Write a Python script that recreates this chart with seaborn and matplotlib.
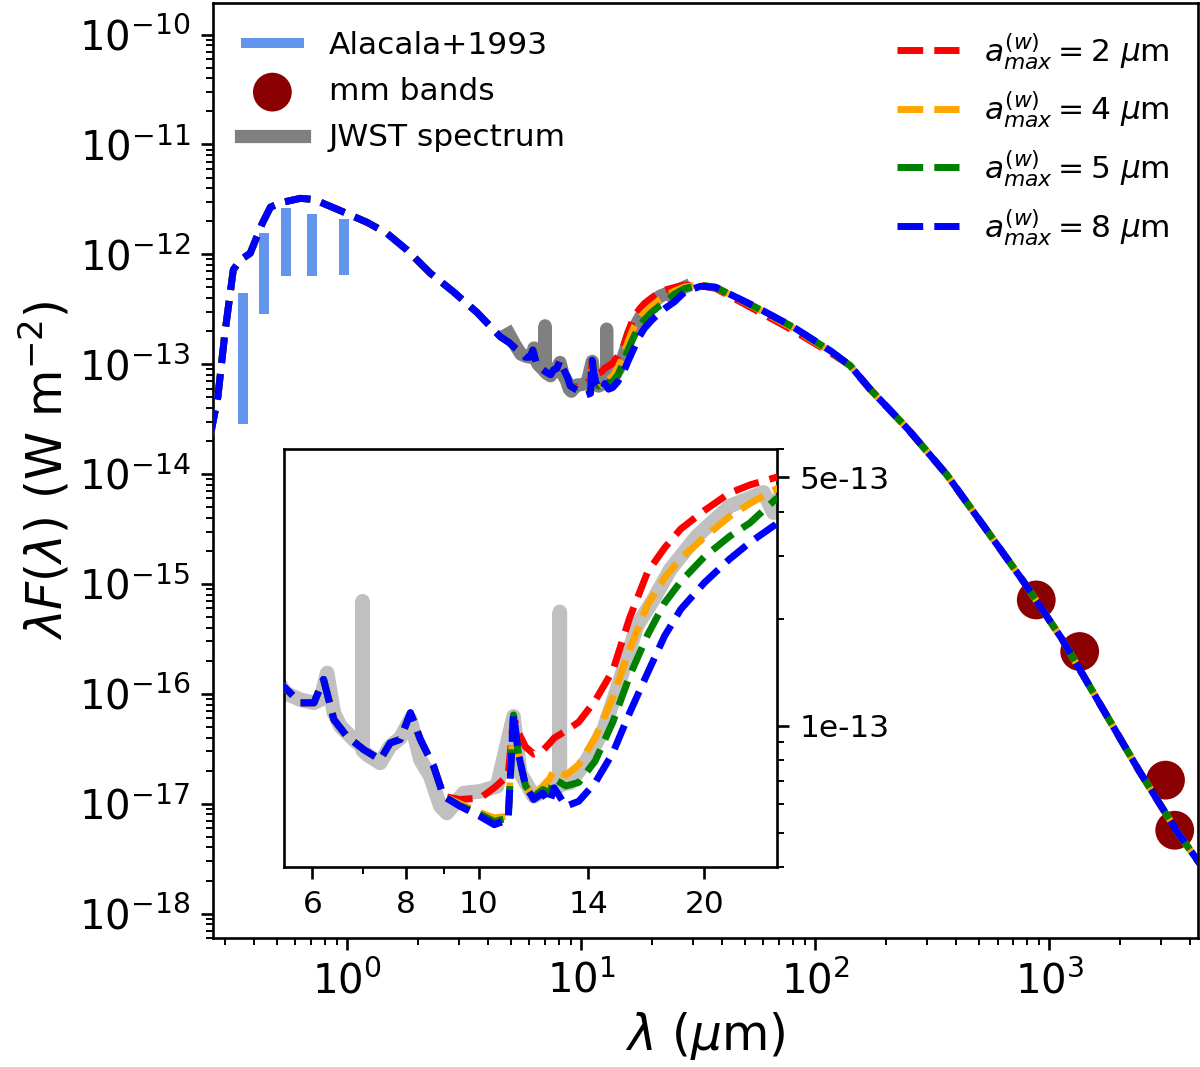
import numpy as np
import pandas as pd
import matplotlib
matplotlib.use("Agg")
import matplotlib.pyplot as plt
import seaborn as sns
from matplotlib.ticker import NullFormatter

# ---------------- data ----------------
# Alcala+1993 optical photometry: vertical ranges
alcala_wl = [0.36, 0.44, 0.55, 0.71, 0.97]
alcala_lo = [2.86e-14, 2.86e-13, 6.35e-13, 6.35e-13, 6.44e-13]
alcala_hi = [4.42e-13, 1.55e-12, 2.65e-12, 2.34e-12, 2.11e-12]

# mm bands
mm_wl = [878, 1346, 3131, 3428]
mm_flux = [7.16e-16, 2.43e-16, 1.64e-17, 5.74e-18]

# JWST spectrum (log10 of lambda F_lambda in W m^-2)
jwst_wl = [4.9, 5.2, 5.52, 5.78, 6.03, 6.15, 6.28, 6.41, 6.54, 6.81, 6.995, 7.0,
           7.005, 7.10, 7.39, 7.62, 7.86, 8.11, 8.36, 8.62, 8.89, 9.07, 9.55,
           10.05, 10.58, 11.13, 11.36, 11.84, 12.34, 12.825, 12.83, 12.835,
           13.25, 13.95, 14.68, 15.45, 16.26, 17.11, 18.01, 19.55, 21.65,
           23.99, 24.73, 25.5, 27.5]
jwst_logf = [-12.72, -12.82, -12.908, -12.927, -12.936, -12.927, -12.852, -12.964,
             -13.002, -13.039, -13.06, -12.65, -13.07, -13.082, -13.105, -13.058,
             -13.035, -12.983, -13.096, -13.143, -13.227, -13.246, -13.190,
             -13.185, -13.171, -12.974, -13.133, -13.199, -13.180, -13.17,
             -12.68, -13.165, -13.161, -13.096, -13.011, -12.870, -12.720,
             -12.645, -12.561, -12.467, -12.382, -12.344, -12.401, -12.33, -12.30]

# Models: shared UV-NIR part
wl_uv = [0.26, 0.28, 0.30, 0.326, 0.35, 0.385, 0.433, 0.47, 0.52, 0.63, 0.72, 0.93,
         1.22, 1.48, 1.8, 2.26, 2.84, 3.59, 4.51, 4.9, 5.2, 5.52, 5.78, 6.03, 6.21,
         6.41, 6.67, 7.03, 7.39, 7.62, 7.86, 8.11, 8.36, 8.71, 8.98]
logf_uv = [-13.65, -13.30, -12.72, -12.14, -12.05, -11.99, -11.72, -11.57, -11.53,
           -11.49, -11.50, -11.60, -11.71, -11.81, -11.96, -12.17, -12.34, -12.53,
           -12.75, -12.80, -12.85, -12.894, -12.936, -12.936, -12.870, -12.983,
           -13.030, -13.068, -13.096, -13.049, -13.039, -12.964, -13.039, -13.115,
           -13.199]

# Models: mid/far-IR part, one array per a_max
wl_mid = [9.44, 10.05, 10.49, 10.95, 11.13, 11.3, 11.55, 11.84, 12.18, 12.43, 12.61,
          13.07, 13.6, 14.3, 15.1, 15.9, 16.8, 17.7, 18.6, 20.0, 21.6, 23.0, 24.9,
          27.7, 32.3, 37.5, 54.8, 80.0, 116.8]
logf_mid_2um = [-13.208, -13.204, -13.175, -13.14, -12.974, -13.02, -13.06, -13.08,
                -13.07, -13.05, -13.035, -13.015, -12.99, -12.93, -12.845, -12.697,
                -12.568, -12.50, -12.447, -12.395, -12.346, -12.323, -12.302,
                -12.28, -12.285, -12.31, -12.50, -12.69, -12.90]
logf_mid_4um = [-13.22, -13.245, -13.26, -13.255, -12.97, -13.08, -13.17, -13.20,
                -13.17, -13.15, -13.125, -13.14, -13.11, -13.035, -12.92, -12.785,
                -12.66, -12.584, -12.53, -12.47, -12.412, -12.375, -12.335,
                -12.295, -12.28, -12.30, -12.48, -12.67, -12.89]
logf_mid_5um = [-13.225, -13.25, -13.27, -13.26, -12.97, -13.08, -13.17, -13.20,
                -13.18, -13.19, -13.15, -13.17, -13.16, -13.10, -12.99, -12.86,
                -12.745, -12.655, -12.595, -12.525, -12.468, -12.43, -12.363,
                -12.31, -12.28, -12.30, -12.475, -12.66, -12.885]
logf_mid_8um = [-13.227, -13.256, -13.279, -13.265, -12.964, -13.08, -13.17, -13.208,
                -13.19, -13.218, -13.175, -13.227, -13.213, -13.161, -13.077, -12.964,
                -12.852, -12.748, -12.673, -12.598, -12.532, -12.485, -12.434,
                -12.34, -12.29, -12.30, -12.47, -12.658, -12.882]

# Models: shared sub-mm part
wl_far = [141, 170, 249, 364, 531, 774, 1131, 1651, 2411, 3521, 4436, 5000]
logf_far = [-13.014, -13.219, -13.593, -14.005, -14.491, -14.977, -15.501, -16.100,
            -16.698, -17.259, -17.559, -17.715]

model_labels = [r'$a_{max}^{(w)} = 2\ \mu$m', r'$a_{max}^{(w)} = 4\ \mu$m',
                r'$a_{max}^{(w)} = 5\ \mu$m', r'$a_{max}^{(w)} = 8\ \mu$m']
model_colors = ['red', 'orange', 'green', 'blue']
model_mid = [logf_mid_2um, logf_mid_4um, logf_mid_5um, logf_mid_8um]

main_xticks = [1, 10, 100, 1000]
main_yticks = [1e-18, 1e-17, 1e-16, 1e-15, 1e-14, 1e-13, 1e-12, 1e-11, 1e-10]
inset_xticks = [6, 8, 10, 14, 20]
inset_xticklabels = ['6', '8', '10', '14', '20']
inset_yticks = [1e-13, 5e-13]
inset_yticklabels = ['1e-13', '5e-13']

# ---------------- build tables ----------------
jwst = pd.DataFrame({'wl': jwst_wl, 'f': 10.0 ** np.array(jwst_logf)})
models = []
for lab, mid in zip(model_labels, model_mid):
    wl = list(wl_uv) + list(wl_mid) + list(wl_far)
    lf = list(logf_uv) + list(mid) + list(logf_far)
    models.append(pd.DataFrame({'wl': wl, 'f': 10.0 ** np.array(lf), 'model': lab}))

# ---------------- style ----------------
plt.rcParams['font.family'] = ['DejaVu Sans']
plt.rcParams['mathtext.fontset'] = 'dejavusans'
plt.rcParams['axes.linewidth'] = 1.9

fig = plt.figure(figsize=(12, 10.67), dpi=100)
ax = fig.add_axes([213 / 1200, 1 - 938 / 1067, (1198 - 213) / 1200, (938 - 3) / 1067])

# JWST spectrum
sns.lineplot(data=jwst, x='wl', y='f', ax=ax, color='gray', lw=9.5, sort=False,
             estimator=None, solid_joinstyle='round', solid_capstyle='projecting',
             label='JWST spectrum', zorder=1)
# Alcala photometry
ax.vlines(alcala_wl, alcala_lo, alcala_hi, colors='cornflowerblue', lw=7.2,
          label='Alacala+1993', zorder=2)
# mm points
sns.scatterplot(x=mm_wl, y=mm_flux, ax=ax, s=780, color='darkred', edgecolor='none',
                label='mm bands', zorder=2)
# models
for df, c, lab in zip(models, model_colors, model_labels):
    sns.lineplot(data=df, x='wl', y='f', ax=ax, color=c, lw=5, linestyle='--',
                 sort=False, estimator=None, label=lab, zorder=3)

ax.set_xscale('log')
ax.set_yscale('log')
ax.set_xticks(main_xticks)
ax.set_yticks(main_yticks)
ax.set_xlim(0.267, 4310)
ax.set_ylim(6.0e-19, 1.94e-10)
ax.set_xlabel(r'$\lambda$ ($\mu$m)', fontsize=35, labelpad=6)
ax.set_ylabel(r'$\lambda F(\lambda)$ (W m$^{-2}$)', fontsize=35)
ax.tick_params(which='major', length=8.5, width=1.9, labelsize=29, pad=8)
ax.tick_params(which='minor', length=4.8, width=1.4)

if ax.get_legend() is not None:
    ax.get_legend().remove()
handles, labels = ax.get_legend_handles_labels()
hmap = dict(zip(labels, handles))
left_labels = ['Alacala+1993', 'mm bands', 'JWST spectrum']
leg1 = ax.legend([hmap[l] for l in left_labels], left_labels, loc='upper left',
                 frameon=False, fontsize=22.5, labelspacing=0.55)
ax.add_artist(leg1)
ax.legend([hmap[l] for l in model_labels], model_labels, loc='upper right',
          frameon=False, fontsize=22.5, labelspacing=0.58)

# ---------------- inset ----------------
axin = fig.add_axes([284 / 1200, 1 - 867 / 1067, 493 / 1200, 418 / 1067])
sns.lineplot(data=jwst, x='wl', y='f', ax=axin, color='silver', lw=10.5, sort=False,
             estimator=None, solid_joinstyle='round', solid_capstyle='projecting',
             zorder=1)
for df, c in zip(models, model_colors):
    sns.lineplot(data=df, x='wl', y='f', ax=axin, color=c, lw=5, linestyle='--',
                 sort=False, estimator=None, zorder=3)
if axin.get_legend() is not None:
    axin.get_legend().remove()
axin.set_xscale('log')
axin.set_yscale('log')
axin.set_xticks(inset_xticks)
axin.set_xticklabels(inset_xticklabels)
axin.xaxis.set_minor_formatter(NullFormatter())
axin.yaxis.tick_right()
axin.set_yticks(inset_yticks)
axin.set_yticklabels(inset_yticklabels)
axin.yaxis.set_minor_formatter(NullFormatter())
axin.set_xlim(5.5, 25)
axin.set_ylim(4e-14, 6e-13)
axin.set_xlabel('')
axin.set_ylabel('')
axin.tick_params(which='major', length=8.5, width=1.9, labelsize=22.5, pad=8)
axin.tick_params(which='minor', length=4.8, width=1.4)

fig.savefig('out.png', dpi=100)
